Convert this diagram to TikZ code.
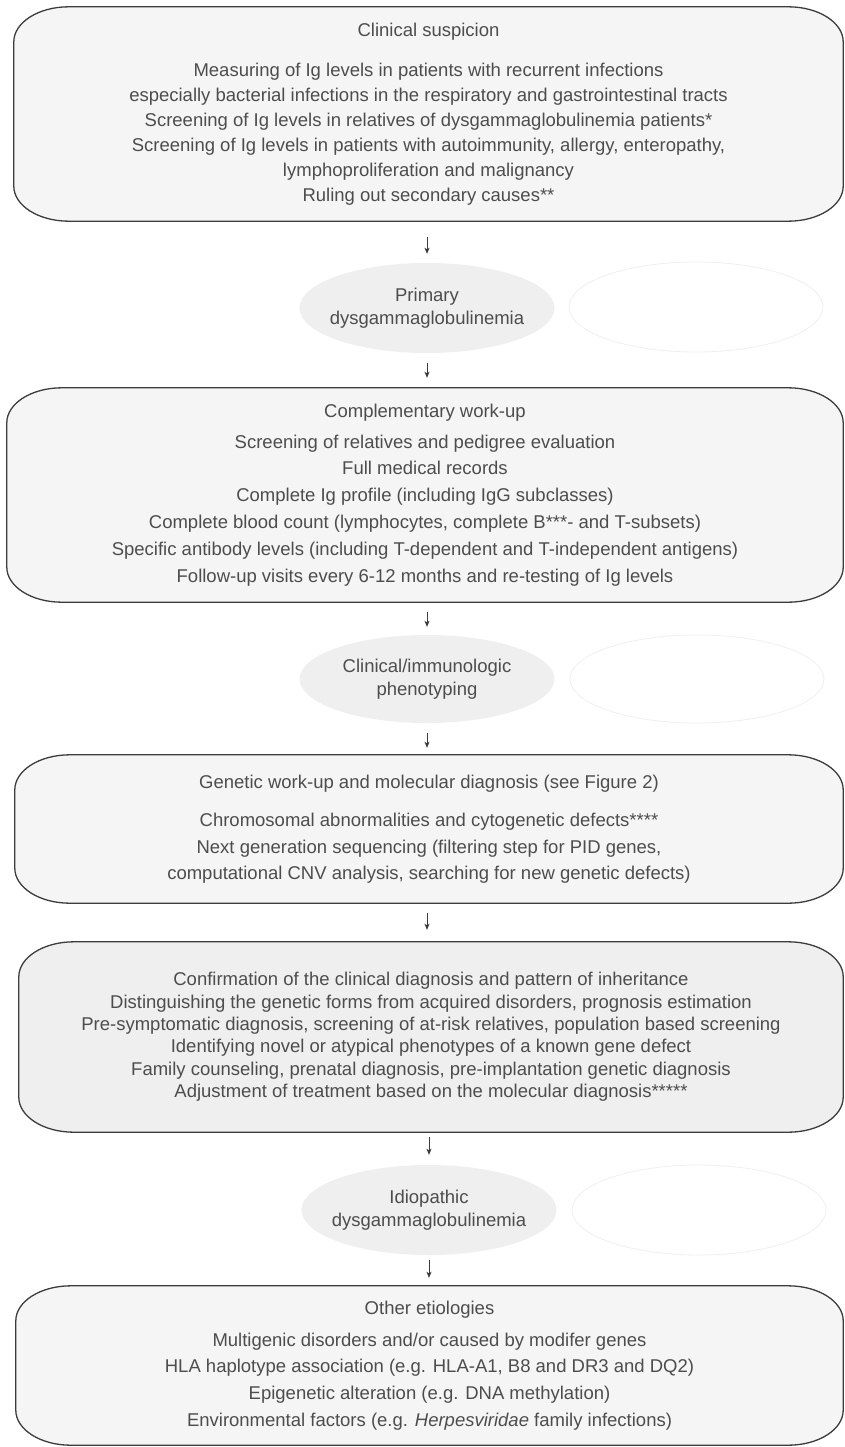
\documentclass[tikz,border=0pt]{standalone}
\usepackage{fontspec}
\setmainfont{Liberation Sans}
\usetikzlibrary{arrows.meta,shapes.geometric,backgrounds}
\definecolor{txt}{HTML}{4D4D4D}
\definecolor{frame}{HTML}{3C3C3C}
\definecolor{boxfill}{HTML}{F5F5F5}
\definecolor{boxfilldark}{HTML}{EFEFEF}
\definecolor{ellfill}{HTML}{EFEFEF}
\definecolor{faintline}{HTML}{F0F0F0}
\tikzset{
  boxnode/.style={rectangle, inner sep=0pt, text=txt, align=center},
  ellnode/.style={ellipse, inner sep=0pt, fill=ellfill, draw=none},
  faintell/.style={ellipse, inner sep=0pt, fill=white, draw=faintline, line width=0.8pt},
  elltext/.style={text=txt, align=center, inner sep=0pt, font=\fontsize{18.5pt}{23pt}\selectfont},
  arr/.style={draw=frame, line width=0.9pt, -{Stealth[length=6pt,width=5pt,inset=1.5pt]}},
}
\newcommand\myframe[2]{%
  \path[draw=frame, line width=1.3pt, fill=#2]
    ([xshift=55pt]#1.north west) -- ([xshift=-55pt]#1.north east)
    arc[start angle=90,end angle=0,x radius=55pt,y radius=35pt]
    -- ([yshift=35pt]#1.south east)
    arc[start angle=0,end angle=-90,x radius=55pt,y radius=35pt]
    -- ([xshift=55pt]#1.south west)
    arc[start angle=270,end angle=180,x radius=55pt,y radius=35pt]
    -- ([yshift=-35pt]#1.north west)
    arc[start angle=180,end angle=90,x radius=55pt,y radius=35pt]
    -- cycle;}
\begin{document}
\begin{tikzpicture}[x=1pt,y=-1pt]
\useasboundingbox (0,0) rectangle (845,1447);

% Box 1
\node[boxnode, minimum width=829pt, minimum height=214pt,
      font=\fontsize{18.5pt}{25pt}\selectfont] (b1) at (428.5,114) {%
Clinical suspicion\\[15pt]
Measuring of Ig levels in patients with recurrent infections\\
especially bacterial infections in the respiratory and gastrointestinal tracts\\
Screening of Ig levels in relatives of dysgammaglobulinemia patients*\\
Screening of Ig levels in patients with autoimmunity, allergy, enteropathy,\\
lymphoproliferation and malignancy\\
Ruling out secondary causes**};

% Ellipse 1
\node[ellnode, minimum width=255pt, minimum height=90pt] (e1) at (427,308) {};
\node[elltext] (e1t) at (e1.center) {Primary\\dysgammaglobulinemia};
\node[faintell, minimum width=254pt, minimum height=90pt] (e1f) at (696,307) {};

% Box 2
\node[boxnode, minimum width=836pt, minimum height=214pt,
      font=\fontsize{18.5pt}{26.8pt}\selectfont] (b2) at (425,495) {%
Complementary work-up\\[4pt]
Screening of relatives and pedigree evaluation\\
Full medical records\\
Complete Ig profile (including IgG subclasses)\\
Complete blood count (lymphocytes, complete B***- and T-subsets)\\
Specific antibody levels (including T-dependent and T-independent antigens)\\
Follow-up visits every 6-12 months and re-testing of Ig levels};

% Ellipse 2
\node[ellnode, minimum width=255pt, minimum height=88pt] (e2) at (427,679) {};
\node[elltext] (e2t) at (e2.center) {Clinical/immunologic\\phenotyping};
\node[faintell, minimum width=254pt, minimum height=88pt] (e2f) at (697,679) {};

% Box 3
\node[boxnode, minimum width=828pt, minimum height=148pt,
      font=\fontsize{18.5pt}{26.5pt}\selectfont] (b3) at (429,829) {%
Genetic work-up and molecular diagnosis (see Figure 2)\\[12pt]
Chromosomal abnormalities and cytogenetic defects****\\
Next generation sequencing (filtering step for PID genes,\\
computational CNV analysis, searching for new genetic defects)};

% Box 4
\node[boxnode, minimum width=824pt, minimum height=190pt,
      font=\fontsize{18.5pt}{22.4pt}\selectfont] (b4) at (431,1037) {%
Confirmation of the clinical diagnosis and pattern of inheritance\\
Distinguishing the genetic forms from acquired disorders, prognosis estimation\\
Pre-symptomatic diagnosis, screening of at-risk relatives, population based screening\\
Identifying novel or atypical phenotypes of a known gene defect\\
Family counseling, prenatal diagnosis, pre-implantation genetic diagnosis\\
Adjustment of treatment based on the molecular diagnosis*****};

% Ellipse 3
\node[ellnode, minimum width=255pt, minimum height=90pt] (e3) at (429,1210) {};
\node[elltext] (e3t) at (e3.center) {Idiopathic\\dysgammaglobulinemia};
\node[faintell, minimum width=254pt, minimum height=90pt] (e3f) at (699,1210) {};

% Box 5
\node[boxnode, minimum width=827pt, minimum height=159pt,
      font=\fontsize{18.5pt}{26.7pt}\selectfont] (b5) at (429.5,1365.5) {%
Other etiologies\\[5pt]
Multigenic disorders and/or caused by modifer genes\\
HLA haplotype association (e.g. HLA-A1, B8 and DR3 and DQ2)\\
Epigenetic alteration (e.g. DNA methylation)\\
Environmental factors (e.g. \textit{Herpesviridae} family infections)};

% frames
\begin{scope}[on background layer]
  \fill[white] (0,0) rectangle (845,1447);
  \myframe{b1}{boxfill}
  \myframe{b2}{boxfill}
  \myframe{b3}{boxfill}
  \myframe{b4}{boxfilldark}
  \myframe{b5}{boxfill}
\end{scope}

% arrows
\draw[arr, shorten <=16pt, shorten >=9pt] (e1.north |- b1.south) -- (e1.north);
\draw[arr, shorten <=10pt, shorten >=10pt] (e1.south) -- (e1.south |- b2.north);
\draw[arr, shorten <=10pt, shorten >=8pt] (e2.north |- b2.south) -- (e2.north);
\draw[arr, shorten <=10pt, shorten >=7pt] (e2.south) -- (e2.south |- b3.north);
\draw[arr, shorten <=10pt, shorten >=12pt] (e1.south |- b3.south) -- (e1.south |- b4.north);
\draw[arr, shorten <=5pt, shorten >=10pt] (e3.north |- b4.south) -- (e3.north);
\draw[arr, shorten <=5pt, shorten >=8pt] (e3.south) -- (e3.south |- b5.north);
\end{tikzpicture}
\end{document}
